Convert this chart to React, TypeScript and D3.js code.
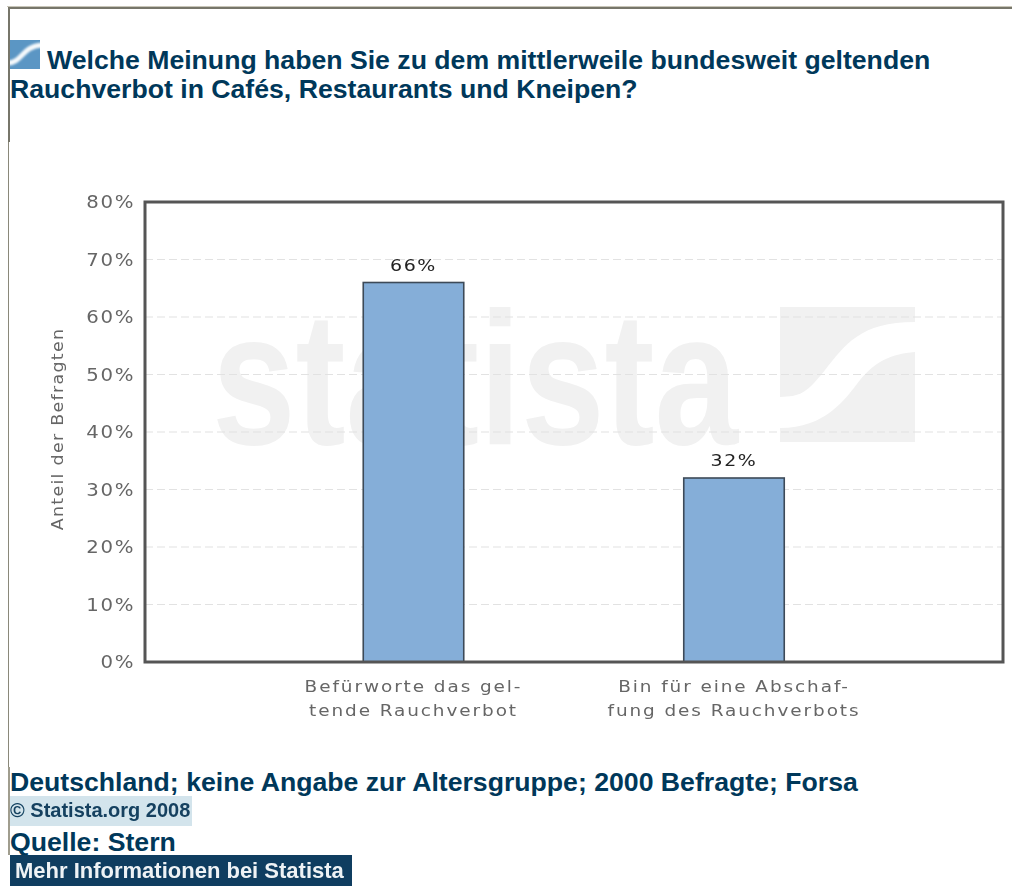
import React from "react";
import * as d3 from "d3";

const categories = ["Befürworte das gel-|tende Rauchverbot", "Bin für eine Abschaf-|fung des Rauchverbots"];
const values = [66, 32];
const valueLabels = ["66%", "32%"];
const yTicks = [0, 10, 20, 30, 40, 50, 60, 70, 80];
const titleLines = ["Welche Meinung haben Sie zu dem mittlerweile bundesweit geltenden", "Rauchverbot in Cafés, Restaurants und Kneipen?"];
const yTitle = "Anteil der Befragten";
const footnote = "Deutschland; keine Angabe zur Altersgruppe; 2000 Befragte; Forsa";
const copyright = "© Statista.org 2008";
const source = "Quelle: Stern";
const moreInfo = "Mehr Informationen bei Statista";

const W = 1012, H = 886;
const plot = { l: 145, r: 1003, t: 202, b: 662 };
const DARK = "#00385a";
const SANS = "'Liberation Sans', Arial, sans-serif";
const CHART = "'DejaVu Sans', Verdana, sans-serif";

export default function App() {
  const y = d3.scaleLinear().domain([0, 80]).range([plot.b, plot.t]);
  const x2 = d3.scalePoint().domain(categories).range([413.5, 734]);
  const bw = 100.5;
  return (
    <svg width={W} height={H} viewBox={`0 0 ${W} ${H}`} style={{ position: "absolute", left: 0, top: 0, background: "#fff" }}>
      <defs>
        <filter id="soft" x="-5%" y="-5%" width="110%" height="110%"><feGaussianBlur stdDeviation="0.35" /></filter>
        <filter id="soft2" x="-5%" y="-5%" width="110%" height="110%"><feGaussianBlur stdDeviation="0.55" /></filter>
        <filter id="soft3" x="-20%" y="-20%" width="140%" height="140%"><feGaussianBlur stdDeviation="1.1" /></filter>
        <clipPath id="logoClip"><rect x={10} y={40} width={30} height={29} /></clipPath>
      </defs>
      {/* page frame */}
      <rect x={7} y={6} width={W - 7} height={1} fill="#c8c5b8" />
      <rect x={8} y={7} width={W - 8} height={2} fill="#77766a" />
      <rect x={8} y={8} width={2} height={134} fill="#77766a" />
      <rect x={8} y={142} width={1} height={625} fill="#8a887a" />
      <rect x={8} y={767} width={2} height={88} fill="#a09d8e" />

      {/* logo */}
      <rect x={10} y={40} width={30} height={29} fill="#5b96c4" />
      <g clipPath="url(#logoClip)">
        <path d="M8 63 C22 63 22 46 42 45" fill="none" stroke="#fff" strokeWidth={5} opacity={0.95} filter="url(#soft3)" />
      </g>

      <g fontFamily={SANS} fontWeight={700} fontSize={26.65} fill={DARK}>
        <text x={47} y={69}>{titleLines[0]}</text>
        <text x={10} y={98}>{titleLines[1]}</text>
      </g>

      {/* watermark */}
      <g fill="#f1f1f1">
        <text x={212} y={444} fontFamily={SANS} fontWeight={700} fontSize={190} textLength={526} lengthAdjust="spacingAndGlyphs">statista</text>
        <path d="M780 307H915V322C860 322 845 345 825 370C805 395 800 396 780 397Z" />
        <path d="M915 352V442H780V428C825 428 845 400 860 380C875 362 890 354 915 352Z" />
      </g>

      {/* grid */}
      {yTicks.filter(t => t > 0 && t < 80).map(t => (
        <line key={t} x1={plot.l} x2={plot.r} y1={y(t)} y2={y(t)} stroke="#e2e2e2" strokeWidth={1.2} strokeDasharray="8 4" />
      ))}

      {/* bars */}
      {categories.map((c, i) => (
        <g key={c}>
          <rect x={x2(c)! - bw / 2} y={y(values[i])} width={bw} height={plot.b - y(values[i])} fill="#85aed8" stroke="#3d4a58" strokeWidth={1.6} />
          <text transform={`translate(${x2(c)},${y(values[i]) - 12}) scale(1.15,1)`} textAnchor="middle" letterSpacing={1.4} fontFamily={CHART} fontSize={16.5} fill="#222" filter="url(#soft)">{valueLabels[i]}</text>
          {c.split("|").map((ln, j) => (
            <text key={j} transform={`translate(${x2(c)},${692 + j * 24}) scale(1.12,1)`} textAnchor="middle" letterSpacing={1.7} fontFamily={CHART} fontSize={16.5} fill="#666" filter="url(#soft)">{ln}</text>
          ))}
        </g>
      ))}

      {/* plot frame */}
      <rect x={plot.l} y={plot.t} width={plot.r - plot.l} height={plot.b - plot.t} fill="none" stroke="#555" strokeWidth={3} />

      {/* y ticks */}
      {yTicks.map(t => (
        <text key={t} transform={`translate(135,${y(t) + 6}) scale(1.16,1)`} textAnchor="end" letterSpacing={1.4} fontFamily={CHART} fontSize={17} fill="#666" filter="url(#soft)">{t}%</text>
      ))}
      <text transform={`translate(63,429) rotate(-90) scale(1.09,1)`} textAnchor="middle" letterSpacing={1.2} fontFamily={CHART} fontSize={16} fill="#666" filter="url(#soft)">{yTitle}</text>

      {/* footer */}
      <g fontFamily={SANS} fontWeight={700} fontSize={26.65} fill={DARK}>
        <text x={10} y={791}>{footnote}</text>
        <text x={10} y={851}>{source}</text>
      </g>
      <rect x={10} y={796} width={182} height={30} fill="#d3e4ec" />
      <text x={10} y={817} fontFamily={SANS} fontWeight={700} fontSize={20} fill="#123f5e" filter="url(#soft2)">{copyright}</text>
      <rect x={10} y={855} width={342} height={31} fill="#0f3d60" />
      <text x={15} y={878} fontFamily={SANS} fontWeight={700} fontSize={22} fill="#eef2f5" filter="url(#soft2)">{moreInfo}</text>
    </svg>
  );
}
